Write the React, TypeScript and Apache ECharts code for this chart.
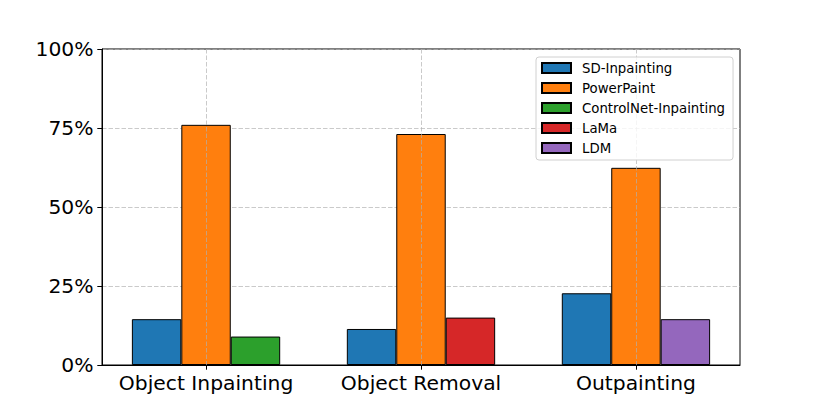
import React, { useEffect, useRef } from "react";
import * as echarts from "echarts";

const categories = ["Object Inpainting", "Object Removal", "Outpainting"];
const sdInpainting = [14.5, 11.4, 22.7];
const powerPaint = [76.0, 73.1, 62.4];
const controlNetInpainting = [9.0, null, null];
const laMa = [null, 15.0, null];
const ldm = [null, null, 14.5];
const yTicks = [0, 25, 50, 75, 100];

const seriesDefs = [
  { name: "SD-Inpainting", values: sdInpainting, slot: -1, color: "#1f77b4" },
  { name: "PowerPaint", values: powerPaint, slot: 0, color: "#ff7f0e" },
  { name: "ControlNet-Inpainting", values: controlNetInpainting, slot: 1, color: "#2ca02c" },
  { name: "LaMa", values: laMa, slot: 1, color: "#d62728" },
  { name: "LDM", values: ldm, slot: 1, color: "#9467bd" },
];

const FONT = "DejaVu Sans";
const BAR_W = 0.23;
const X_MIN = -0.484;
const X_MAX = 2.484;
const GRID_LEFT = 102;
const GRID_TOP = 49;
const GRID_W = 638;
const GRID_H = 316;

export default function App() {
  const ref = useRef<HTMLDivElement>(null);
  useEffect(() => {
    if (!ref.current) return;
    const chart = echarts.init(ref.current, undefined, { renderer: "svg" });
    const tickVals = categories.map((_, i) => i);
    const barPx = (BAR_W * GRID_W) / (X_MAX - X_MIN);
    const gridLine = { color: "#b0b0b0", type: [4.5, 2], width: 0.8, opacity: 0.85 };
    chart.setOption({
      animation: false,
      grid: {
        left: GRID_LEFT,
        top: GRID_TOP,
        width: GRID_W,
        height: GRID_H,
        show: true,
        borderColor: "#000",
        borderWidth: 1,
        backgroundColor: "transparent",
      },
      legend: {
        orient: "vertical",
        left: 536,
        top: 57,
        z: 5,
        itemWidth: 29,
        itemHeight: 10,
        itemGap: 6,
        padding: [4, 8, 5, 5],
        borderColor: "#d0d0d0",
        borderWidth: 1,
        borderRadius: 3,
        backgroundColor: "rgba(255,255,255,0.8)",
        icon: "rect",
        data: seriesDefs.map((s) => s.name),
        textStyle: {
          fontFamily: FONT,
          fontSize: 13.3,
          color: "#000",
          lineHeight: 14,
          padding: [0, 0, 0, 6],
        },
      },
      xAxis: {
        type: "value",
        min: X_MIN,
        max: X_MAX,
        z: 3,
        axisLine: { show: true, onZero: false, lineStyle: { color: "#000", width: 1 } },
        axisTick: {
          show: true,
          customValues: tickVals,
          length: 4.7,
          lineStyle: { color: "#000", width: 1 },
        },
        axisLabel: {
          customValues: tickVals,
          formatter: (v: number) => categories[Math.round(v)] ?? "",
          fontFamily: FONT,
          fontSize: 20.3,
          color: "#000",
          margin: 8,
        },
        splitLine: { show: true, lineStyle: gridLine },
      },
      yAxis: {
        type: "value",
        min: yTicks[0],
        max: yTicks[yTicks.length - 1],
        interval: yTicks[1] - yTicks[0],
        axisLine: { show: true, onZero: false, lineStyle: { color: "#000", width: 1 } },
        axisTick: { show: true, length: 4.7, lineStyle: { color: "#000", width: 1 } },
        axisLabel: {
          formatter: "{value}%",
          fontFamily: FONT,
          fontSize: 20.3,
          color: "#000",
          margin: 8.5,
        },
        splitLine: { show: true, lineStyle: gridLine },
      },
      series: seriesDefs.map((s) => ({
        name: s.name,
        type: "bar",
        barGap: "-100%",
        barWidth: barPx,
        itemStyle: { color: s.color, borderColor: "#000", borderWidth: 1 },
        data: s.values
          .map((v, i) => (v == null ? null : [i + s.slot * BAR_W, v]))
          .filter((d) => d != null),
      })),
    });
    return () => chart.dispose();
  }, []);
  return (
    <div
      ref={ref}
      style={{ position: "absolute", left: 0, top: 0, width: 822, height: 411 }}
    />
  );
}
